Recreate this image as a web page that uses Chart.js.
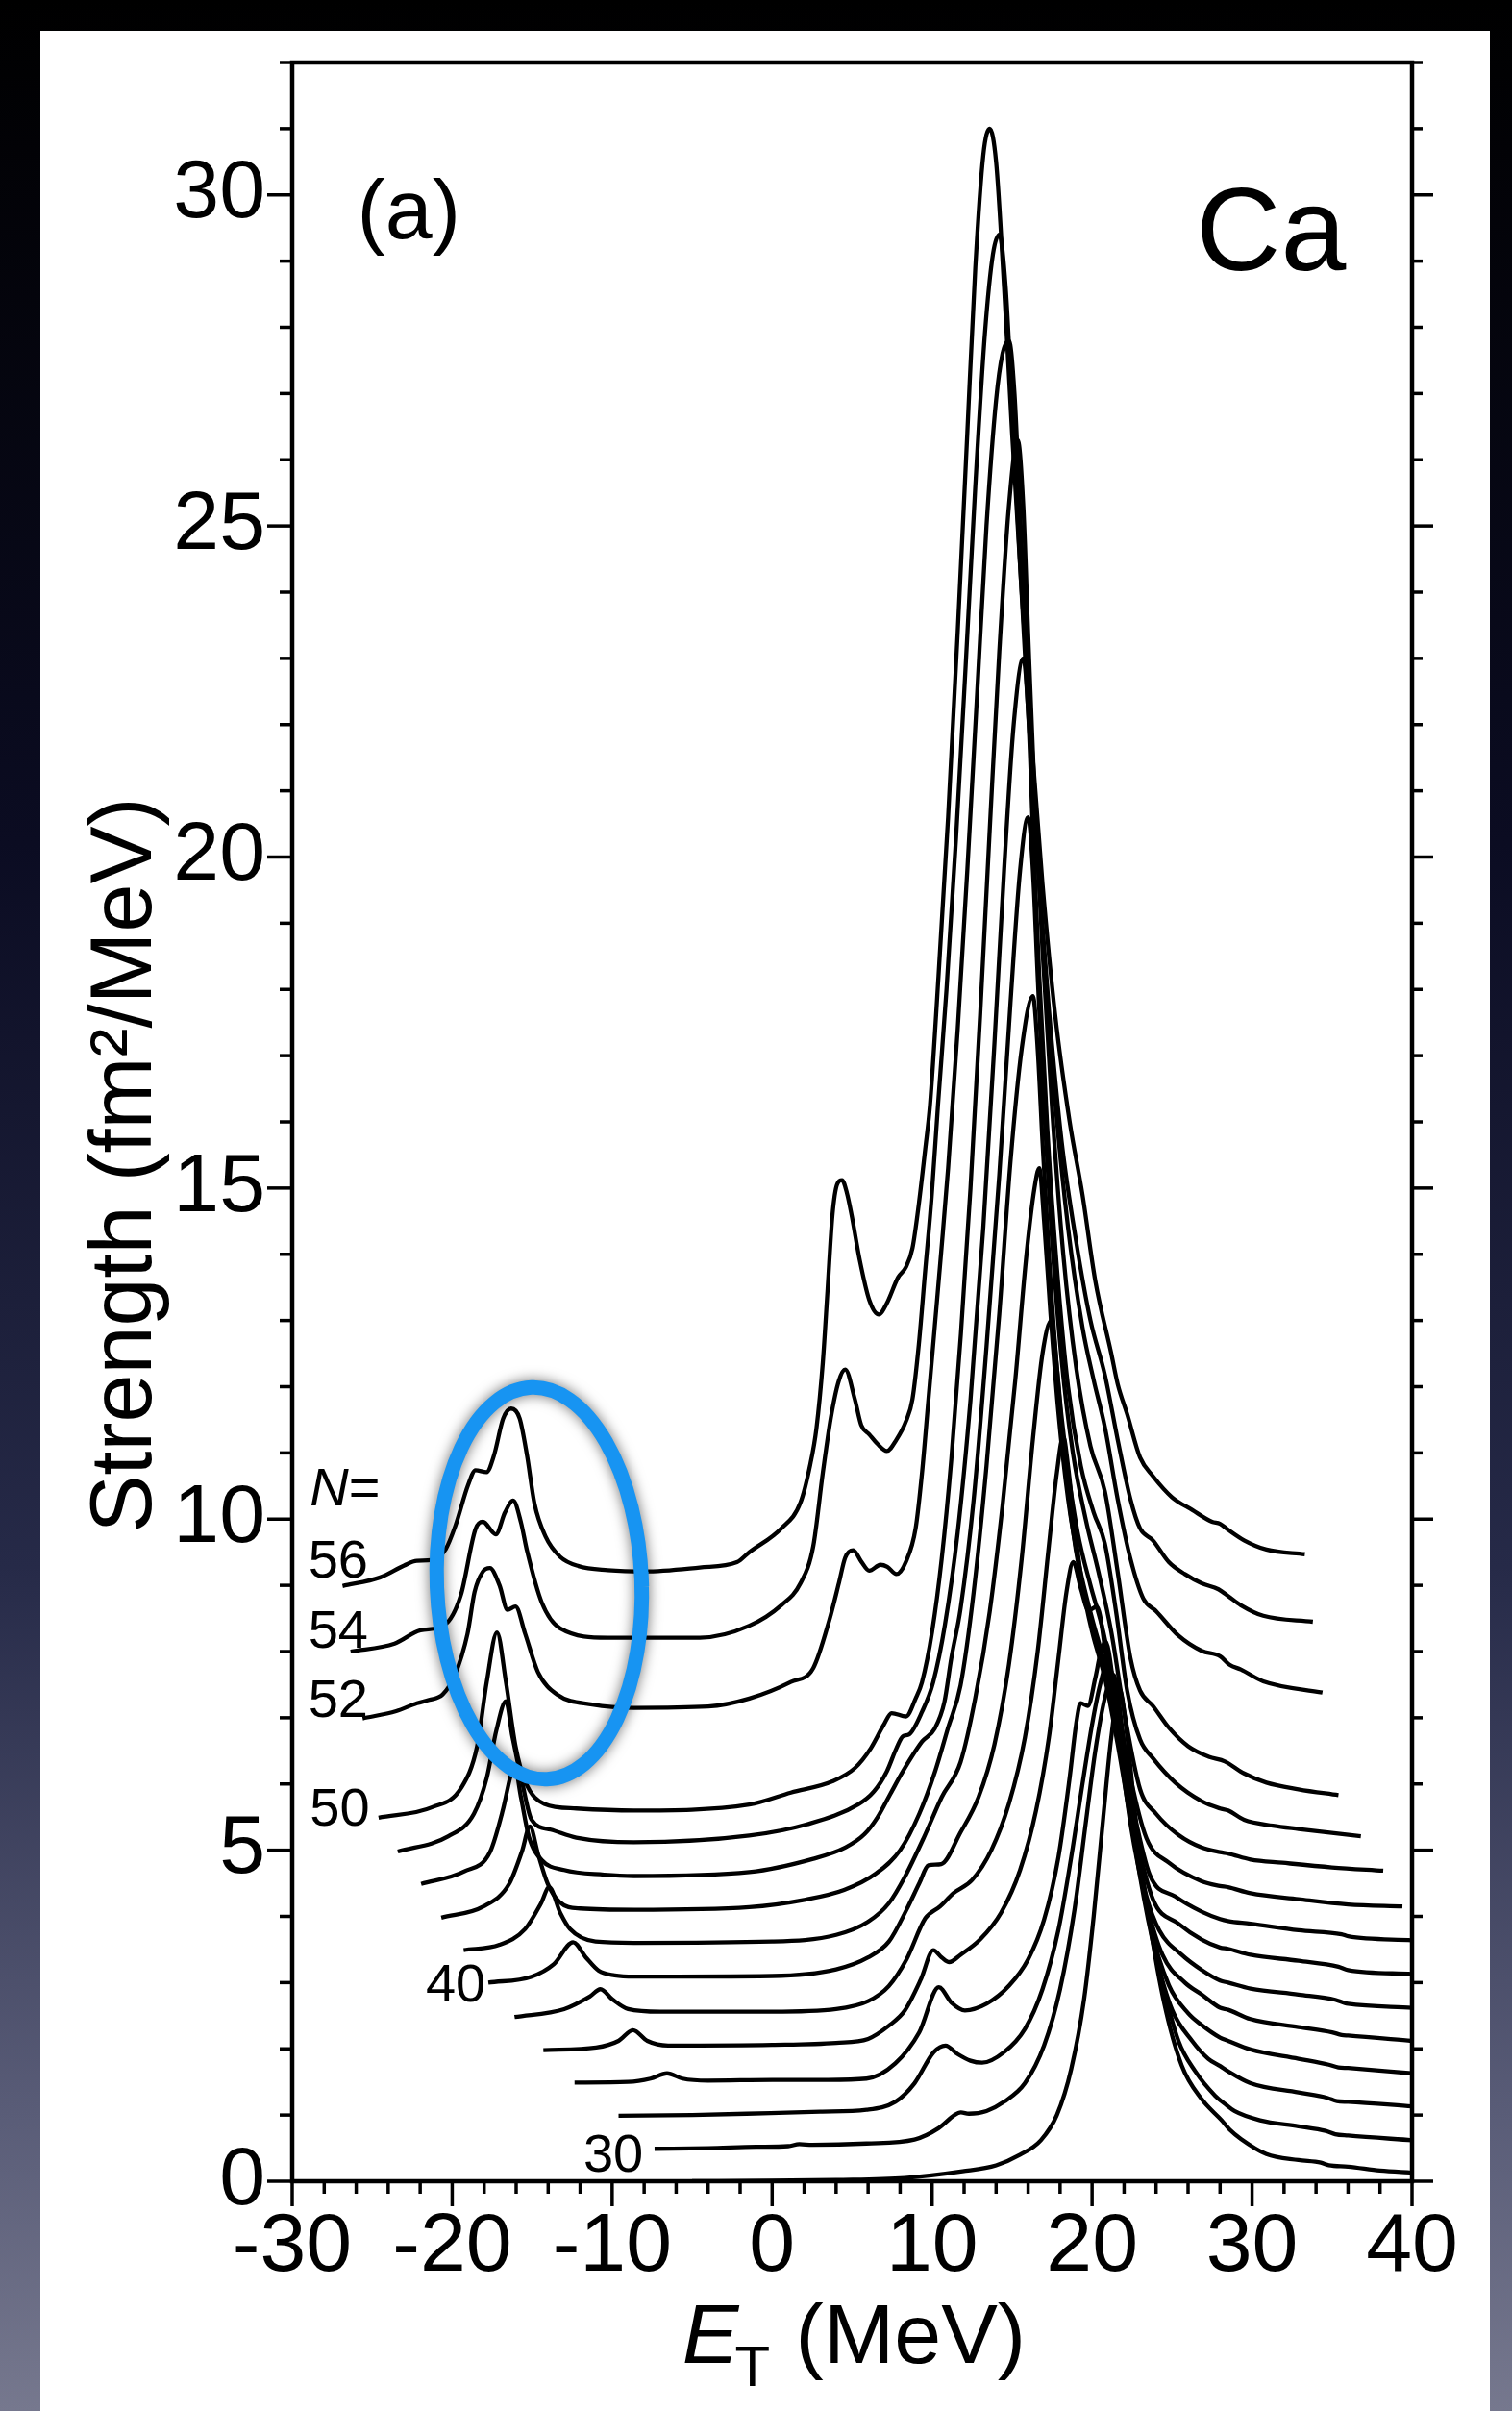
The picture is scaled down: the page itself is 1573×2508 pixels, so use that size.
<!DOCTYPE html>
<html>
<head>
<meta charset="utf-8">
<script src="https://cdn.jsdelivr.net/npm/chart.js@4.4.1/dist/chart.umd.min.js"></script>
<style>
  html, body { margin: 0; padding: 0; }
  body {
    width: 1573px; height: 2508px; overflow: hidden; position: relative;
    background: linear-gradient(180deg, #000000 0%, #0b0c22 35%, #262a48 65%, #5a5d78 88%, #76788e 100%);
  }
  #panel { position: absolute; left: 42px; top: 32px; width: 1508px; height: 2476px; background: #ffffff; }
  #wrap { position: absolute; left: 0; top: 0; width: 1573px; height: 2508px; }
</style>
</head>
<body>
<div id="panel"></div>
<div id="wrap"><canvas id="chart" width="1573" height="2508"></canvas></div>
<script>
// Ca isotopes, N = 28 ... 56, strength vs E_T, each curve shifted up
const isotopeN = [28, 30, 32, 34, 36, 38, 40, 42, 44, 46, 48, 50, 52, 54, 56];

const xMajorTicks = [-30, -20, -10, 0, 10, 20, 30, 40];
const xMinorTicks = [-28, -26, -24, -22, -18, -16, -14, -12, -8, -6, -4, -2, 2, 4, 6, 8, 12, 14, 16, 18, 22, 24, 26, 28, 32, 34, 36, 38];
const yMajorTicks = [0, 5, 10, 15, 20, 25, 30];
const yMinorTicks = [1, 2, 3, 4, 6, 7, 8, 9, 11, 12, 13, 14, 16, 17, 18, 19, 21, 22, 23, 24, 26, 27, 28, 29, 31, 32];

const s28 = [[-5.0,0.0],[0.0,0.01],[4.0,0.02],[8.3,0.05],[11.9,0.15],[14.0,0.24],[15.5,0.4],[16.8,0.62],[17.8,1.0],[18.7,1.7],[19.5,2.75],[20.1,4.0],[20.7,5.5],[21.2,6.7],[21.7,7.45],[22.2,6.7],[22.8,5.3],[23.6,3.9],[24.5,2.7],[25.6,1.75],[26.85,1.24],[28.1,0.92],[28.6,0.78],[29.3,0.64],[30.9,0.41],[32.9,0.32],[34.3,0.28],[34.8,0.24],[36.0,0.22],[38.0,0.16],[40.0,0.13]];
const s30 = [[-7.35,0.49],[-4.0,0.5],[-1.0,0.52],[1.0,0.53],[1.7,0.56],[2.5,0.55],[5.9,0.57],[8.9,0.63],[10.4,0.8],[11.4,1.0],[11.8,1.04],[12.3,1.02],[13.4,1.06],[14.5,1.2],[15.8,1.48],[17.0,2.05],[18.0,2.9],[18.9,4.1],[19.6,5.4],[20.2,6.5],[20.8,7.3],[21.35,7.65],[21.9,6.8],[22.5,5.6],[23.3,4.3],[24.3,3.1],[25.4,2.12],[26.45,1.66],[27.7,1.29],[28.4,1.15],[28.9,1.06],[30.5,0.92],[32.9,0.83],[34.6,0.76],[35.2,0.71],[36.0,0.69],[40.0,0.62]];
const s32 = [[-9.6,0.99],[-5.0,1.0],[-0.1,1.03],[3.0,1.05],[5.9,1.08],[7.7,1.2],[8.9,1.48],[10.1,1.95],[10.84,2.05],[11.6,1.92],[12.4,1.82],[13.13,1.79],[14.5,1.95],[15.8,2.3],[16.9,2.9],[17.9,3.8],[18.7,4.9],[19.4,6.0],[20.0,6.9],[20.5,7.5],[21.0,7.85],[21.6,7.0],[22.2,5.9],[23.0,4.6],[24.0,3.4],[25.0,2.59],[26.25,2.12],[27.26,1.85],[28.0,1.74],[28.5,1.66],[29.9,1.48],[32.9,1.34],[34.7,1.26],[35.3,1.21],[36.0,1.2],[40.0,1.13]];
const s34 = [[-12.35,1.49],[-9.0,1.5],[-7.6,1.55],[-6.57,1.63],[-5.6,1.55],[-4.0,1.52],[0.0,1.53],[3.5,1.53],[5.9,1.55],[7.7,1.78],[9.2,2.25],[10.42,2.93],[11.2,2.7],[12.05,2.58],[13.4,2.68],[14.8,2.95],[16.0,3.35],[17.0,3.95],[17.9,4.9],[18.6,6.1],[19.0,6.9],[19.28,7.22],[19.74,7.18],[20.2,7.6],[20.5,7.95],[20.85,8.15],[21.4,7.4],[22.0,6.4],[22.8,5.0],[23.6,3.9],[24.8,2.96],[26.0,2.54],[26.85,2.36],[28.0,2.17],[28.5,2.12],[29.9,1.99],[32.9,1.85],[34.8,1.76],[35.4,1.72],[36.0,1.71],[40.0,1.63]];
const s36 = [[-14.3,1.98],[-11.0,2.02],[-9.6,2.12],[-8.7,2.28],[-7.8,2.12],[-6.5,2.05],[0.0,2.06],[4.0,2.09],[6.0,2.15],[7.3,2.35],[8.3,2.58],[9.3,3.05],[10.07,3.49],[10.6,3.38],[11.07,3.31],[11.78,3.42],[13.0,3.65],[14.3,4.05],[15.5,4.7],[16.5,5.6],[17.3,6.7],[17.9,7.9],[18.4,8.9],[18.82,9.35],[19.3,8.95],[19.78,8.62],[20.3,8.68],[20.9,7.9],[21.6,6.8],[22.4,5.4],[23.4,4.2],[24.4,3.42],[25.8,3.0],[26.85,2.82],[28.0,2.62],[28.5,2.59],[29.9,2.45],[32.9,2.33],[35.0,2.25],[35.6,2.21],[36.0,2.2],[40.0,2.12]];
const s38 = [[-16.1,2.48],[-13.0,2.6],[-11.4,2.79],[-10.73,2.9],[-10.0,2.75],[-9.0,2.6],[-7.0,2.56],[0.0,2.56],[4.0,2.6],[6.0,2.72],[7.3,2.95],[8.4,3.35],[9.57,3.97],[10.5,4.15],[11.33,4.35],[12.5,4.55],[13.7,5.0],[14.8,5.7],[15.8,6.7],[16.6,8.0],[17.3,9.6],[17.8,10.7],[18.2,11.25],[18.5,10.8],[18.9,9.9],[19.4,9.0],[20.0,8.3],[20.8,7.6],[21.6,6.6],[22.6,5.2],[23.4,4.3],[24.2,3.79],[25.6,3.42],[26.85,3.19],[28.0,3.03],[28.5,3.0],[29.9,2.91],[32.9,2.82],[35.2,2.74],[35.8,2.69],[36.0,2.68],[40.0,2.62]];
const s40 = [[-17.74,3.0],[-15.04,3.09],[-13.64,3.28],[-12.44,3.61],[-11.64,3.38],[-10.84,3.18],[-9.84,3.11],[-8.64,3.09],[0.0,3.1],[4.0,3.2],[6.0,3.38],[7.3,3.62],[8.4,4.1],[9.2,4.5],[9.77,4.77],[10.57,4.79],[11.78,5.27],[12.9,5.8],[13.9,6.6],[14.8,7.8],[15.6,9.4],[16.3,11.2],[16.9,12.5],[17.45,13.0],[17.8,12.3],[18.2,11.1],[18.7,10.0],[19.3,9.1],[20.0,8.4],[20.8,7.7],[21.6,6.8],[22.6,5.4],[23.8,4.26],[25.4,3.89],[26.85,3.65],[28.0,3.53],[28.5,3.51],[29.9,3.42],[32.9,3.33],[35.4,3.24],[36.0,3.19],[40.0,3.13]];
const s42 = [[-19.28,3.49],[-17.04,3.57],[-15.44,3.81],[-14.44,4.2],[-13.94,4.44],[-13.24,4.05],[-12.64,3.81],[-11.04,3.62],[-8.64,3.6],[0.0,3.62],[4.0,3.72],[6.0,3.92],[7.3,4.2],[8.3,4.6],[9.5,5.2],[10.6,5.8],[11.78,6.33],[12.7,7.3],[13.6,8.6],[14.4,10.2],[15.2,12.1],[15.9,14.0],[16.4,15.0],[16.7,15.3],[17.0,14.5],[17.4,13.1],[17.9,11.6],[18.5,10.3],[19.2,9.3],[20.0,8.5],[20.8,7.8],[21.6,6.9],[22.6,5.6],[23.6,4.63],[25.2,4.3],[26.85,4.07],[28.0,3.96],[28.5,3.93],[29.9,3.89],[32.9,3.79],[35.6,3.73],[36.0,3.7],[40.0,3.64]];
const s44 = [[-20.68,3.98],[-18.04,4.15],[-16.44,4.49],[-15.64,4.98],[-15.14,5.36],[-14.64,4.95],[-14.04,4.5],[-13.3,4.22],[-12.0,4.12],[-8.6,4.1],[-1.43,4.14],[2.0,4.25],[4.5,4.4],[6.5,4.65],[8.0,5.0],[9.2,5.55],[10.2,6.2],[11.0,6.85],[11.78,7.49],[12.6,8.9],[13.4,10.8],[14.2,13.1],[14.9,15.4],[15.6,17.1],[16.3,17.9],[16.6,17.1],[16.9,15.7],[17.3,14.0],[17.8,12.3],[18.4,10.9],[19.1,9.8],[19.9,9.0],[20.7,8.3],[21.5,7.3],[22.4,6.1],[23.4,5.18],[24.8,4.81],[26.85,4.53],[28.0,4.46],[28.5,4.44],[29.9,4.35],[32.9,4.26],[36.0,4.18],[39.4,4.15]];
const s46 = [[-21.94,4.49],[-19.24,4.68],[-17.64,4.97],[-16.84,5.6],[-16.34,6.13],[-16.1,6.28],[-15.7,5.8],[-15.2,5.2],[-14.4,4.85],[-13.0,4.7],[-10.5,4.63],[-8.64,4.61],[-1.43,4.67],[2.57,4.87],[4.57,5.04],[5.77,5.24],[6.57,5.49],[7.37,5.84],[8.17,6.19],[9.37,6.64],[10.17,6.84],[10.77,7.24],[11.2,7.9],[11.78,8.65],[12.6,10.3],[13.4,12.6],[14.2,15.2],[14.9,17.8],[15.5,19.8],[16.0,20.6],[16.3,19.8],[16.6,18.2],[17.0,16.2],[17.5,14.2],[18.1,12.4],[18.8,11.0],[19.6,10.0],[20.4,9.2],[21.2,8.3],[22.0,7.1],[23.0,5.92],[24.0,5.55],[25.4,5.23],[26.85,5.04],[28.0,4.97],[28.5,4.95],[29.9,4.86],[31.9,4.81],[35.0,4.74],[38.2,4.69]];
const s48 = [[-23.4,4.98],[-20.24,5.21],[-18.64,5.55],[-17.84,6.09],[-17.24,6.81],[-16.64,7.25],[-16.24,6.72],[-15.64,6.04],[-15.04,5.46],[-13.84,5.31],[-12.24,5.19],[-8.64,5.12],[-1.43,5.22],[2.17,5.39],[5.37,5.69],[6.37,5.89],[7.17,6.19],[7.77,6.54],[8.17,6.72],[8.57,6.75],[9.37,7.09],[10.07,7.54],[10.8,8.4],[11.6,9.8],[12.4,11.8],[13.2,14.4],[13.9,17.2],[14.5,19.8],[15.1,22.0],[15.7,23.0],[16.0,22.2],[16.3,20.4],[16.7,18.2],[17.2,15.9],[17.8,13.8],[18.5,12.0],[19.3,10.8],[20.1,10.1],[20.8,9.63],[21.5,8.6],[22.2,7.4],[23.0,6.67],[23.8,6.39],[25.2,6.02],[26.85,5.74],[28.0,5.63],[28.5,5.6],[29.5,5.46],[31.3,5.37],[32.9,5.32],[36.8,5.21]];
const s50 = [[-24.6,5.49],[-21.24,5.65],[-19.44,5.94],[-18.44,6.57],[-17.84,7.54],[-17.2,8.29],[-16.64,7.54],[-16.04,6.57],[-15.44,6.04],[-14.24,5.7],[-12.24,5.63],[-8.64,5.6],[-1.43,5.69],[1.17,5.87],[3.77,6.04],[5.17,6.24],[6.17,6.54],[6.97,6.89],[7.47,7.07],[8.37,7.02],[8.97,7.29],[9.37,7.54],[10.0,8.3],[10.6,9.4],[11.2,10.9],[11.8,12.8],[12.4,15.0],[13.0,17.6],[13.6,20.4],[14.2,23.1],[14.8,25.3],[15.35,26.3],[15.7,25.3],[16.0,23.4],[16.4,21.0],[16.9,18.6],[17.5,16.2],[18.2,14.0],[19.0,12.3],[19.9,11.1],[20.8,10.42],[21.6,9.2],[22.4,7.9],[23.0,7.41],[23.8,7.18],[24.8,6.85],[26.0,6.57],[27.3,6.41],[28.3,6.34],[29.5,6.16],[30.9,6.02],[32.9,5.92],[35.4,5.83]];
const s52 = [[-25.6,6.99],[-23.5,7.1],[-22.2,7.22],[-21.44,7.27],[-20.6,7.35],[-19.84,7.64],[-19.04,8.27],[-18.6,8.9],[-18.1,9.2],[-17.64,9.26],[-17.04,9.0],[-16.54,8.63],[-16.04,8.68],[-15.44,8.27],[-14.64,7.69],[-13.44,7.35],[-11.24,7.2],[-8.64,7.15],[-4.0,7.17],[-1.43,7.29],[1.17,7.54],[2.57,7.75],[3.57,8.47],[4.17,9.03],[4.57,9.42],[5.07,9.53],[5.57,9.36],[6.07,9.22],[6.77,9.31],[7.2,9.28],[7.77,9.17],[8.37,9.36],[8.97,9.86],[9.37,10.7],[9.77,11.81],[10.17,12.92],[10.57,14.04],[11.0,15.3],[11.6,17.4],[12.2,19.8],[12.8,22.4],[13.4,25.0],[14.0,26.9],[14.4,27.6],[14.8,27.8],[15.15,27.0],[15.5,25.2],[15.9,23.0],[16.4,20.8],[17.0,18.5],[17.7,16.3],[18.5,14.4],[19.4,12.9],[20.1,12.1],[20.8,11.39],[21.6,10.3],[22.4,9.4],[23.2,8.8],[24.0,8.61],[25.4,8.24],[26.85,8.01],[28.0,7.93],[28.6,7.8],[29.3,7.73],[30.7,7.55],[34.4,7.38]];
const s54 = [[-26.35,8.0],[-23.6,8.12],[-21.98,8.32],[-20.49,8.4],[-19.46,8.85],[-18.54,9.85],[-18.08,9.96],[-17.27,9.77],[-16.7,10.1],[-16.19,10.28],[-15.7,9.95],[-15.32,9.52],[-14.4,8.74],[-13.25,8.35],[-10.27,8.21],[-4.52,8.21],[-1.43,8.39],[0.57,8.7],[1.77,9.03],[2.57,9.59],[3.17,10.7],[3.67,11.53],[4.17,12.09],[4.57,12.26],[5.17,11.81],[5.57,11.42],[6.07,11.28],[6.57,11.14],[7.17,11.03],[7.77,11.2],[8.37,11.48],[8.77,11.81],[9.17,12.64],[9.57,13.76],[9.97,14.87],[10.37,16.26],[10.9,18.0],[11.5,20.3],[12.1,22.9],[12.7,25.6],[13.3,27.9],[13.8,29.1],[14.2,29.4],[14.6,28.6],[15.0,26.8],[15.5,24.4],[16.0,22.2],[16.6,19.9],[17.3,17.7],[18.1,15.7],[19.0,14.2],[19.9,13.0],[20.8,12.18],[21.6,11.2],[22.4,10.3],[23.0,9.86],[23.8,9.68],[24.8,9.35],[25.8,9.17],[26.85,9.03],[27.9,8.94],[28.5,8.84],[29.3,8.7],[30.7,8.54],[33.8,8.45]];
const s56 = [[-26.85,8.99],[-24.5,9.12],[-23.0,9.3],[-22.21,9.37],[-21.3,9.38],[-20.4,9.55],[-19.8,9.9],[-19.0,10.52],[-18.54,10.74],[-17.85,10.71],[-17.39,10.96],[-16.81,11.52],[-16.31,11.67],[-15.78,11.52],[-15.32,10.96],[-14.86,10.24],[-14.17,9.74],[-13.25,9.43],[-12.1,9.29],[-10.27,9.23],[-7.97,9.21],[-4.52,9.27],[-2.2,9.35],[-1.43,9.5],[0.57,9.86],[1.77,10.25],[2.37,10.81],[2.77,11.37],[3.17,12.37],[3.47,13.48],[3.77,14.59],[4.07,15.06],[4.37,15.12],[4.67,14.93],[4.97,14.59],[5.47,13.92],[6.07,13.31],[6.67,13.09],[7.17,13.26],[7.87,13.65],[8.37,13.81],[8.77,14.09],[9.17,14.76],[9.57,15.59],[9.87,16.26],[10.4,18.2],[11.0,20.6],[11.6,23.4],[12.2,26.4],[12.7,28.9],[13.2,30.6],[13.6,31.0],[14.0,30.5],[14.5,28.6],[15.0,26.4],[15.6,24.0],[16.2,21.8],[16.9,19.6],[17.7,17.6],[18.6,16.0],[19.4,14.9],[20.2,13.6],[21.2,12.5],[21.6,12.04],[22.2,11.58],[23.0,10.93],[23.8,10.65],[25.0,10.33],[26.25,10.14],[27.5,9.96],[28.0,9.93],[28.5,9.84],[29.5,9.68],[30.9,9.54],[33.3,9.47]];

const curves = [s28, s30, s32, s34, s36, s38, s40, s42, s44, s46, s48, s50, s52, s54, s56];
const curveLabels = ['N=', '56', '54', '52', '50', '40', '30'];

const FONT = '"Liberation Sans", Arial, Helvetica, sans-serif';

// frame, tick marks, labels and the blue highlight ring
const decorations = {
  id: 'decorations',
  afterDatasetsDraw(chart) {
    const ctx = chart.ctx;
    const { left, right, top, bottom } = chart.chartArea;
    const xs = chart.scales.x, ys = chart.scales.y;
    const px = v => xs.getPixelForValue(v);
    const py = v => ys.getPixelForValue(v);

    ctx.save();
    ctx.strokeStyle = '#000';

    // tick marks, outside of the box
    ctx.lineWidth = 3.5;
    ctx.lineCap = 'butt';
    const tick = (x1, y1, x2, y2) => { ctx.beginPath(); ctx.moveTo(x1, y1); ctx.lineTo(x2, y2); ctx.stroke(); };
    yMajorTicks.forEach(v => {
      tick(left - 26, py(v), left, py(v));
      tick(right, py(v), right + 22, py(v));
    });
    yMinorTicks.forEach(v => {
      tick(left - 13, py(v), left, py(v));
      tick(right, py(v), right + 11, py(v));
    });
    xMajorTicks.forEach(v => tick(px(v), bottom, px(v), bottom + 26));
    xMinorTicks.forEach(v => tick(px(v), bottom, px(v), bottom + 13));

    // plot box
    ctx.lineWidth = 4.5;
    ctx.lineCap = 'square';
    ctx.strokeRect(left, top, right - left, bottom - top);

    // text inside the plot
    ctx.fillStyle = '#000';
    ctx.textBaseline = 'alphabetic';
    ctx.textAlign = 'left';
    ctx.font = '88px ' + FONT;
    ctx.fillText('(a)', px(-25.95), py(29.35));
    ctx.font = '122px ' + FONT;
    ctx.fillText('Ca', px(26.5), py(28.86));

    ctx.font = 'italic 56px ' + FONT;
    ctx.fillText('N', px(-28.9), py(10.21));
    const wN = ctx.measureText('N').width;
    ctx.font = '56px ' + FONT;
    ctx.fillText('=', px(-28.9) + wN, py(10.21));
    ctx.fillText(curveLabels[1], px(-29.0), py(9.12));
    ctx.fillText(curveLabels[2], px(-29.0), py(8.06));
    ctx.fillText(curveLabels[3], px(-29.0), py(7.01));
    ctx.fillText(curveLabels[4], px(-28.9), py(5.37));
    ctx.fillText(curveLabels[5], px(-21.65), py(2.72));
    ctx.fillText(curveLabels[6], px(-11.8), py(0.15));

    // blue ring around the low-energy peaks
    const cx = px(-14.56), cy = py(9.03);
    const rx = px(-14.56 + 6.4) - cx, ry = cy - py(9.03 + 2.96);
    ctx.shadowColor = 'rgba(0,0,0,0.55)';
    ctx.shadowBlur = 14;
    ctx.strokeStyle = '#1794f2';
    ctx.lineWidth = 15;
    ctx.beginPath();
    ctx.ellipse(cx, cy, rx, ry, -0.04, 0, Math.PI * 2);
    ctx.stroke();
    ctx.shadowBlur = 0;
    ctx.shadowColor = 'transparent';

    // axis titles
    ctx.fillStyle = '#000';
    const midX = (left + right) / 2 + 3;
    const base = 2458;
    ctx.font = 'italic 88px ' + FONT;
    const wE = ctx.measureText('E').width;
    ctx.font = '60px ' + FONT;
    const wT = ctx.measureText('T').width;
    ctx.font = '88px ' + FONT;
    const wRest = ctx.measureText(' (MeV)').width;
    let x0 = midX - (wE + wT + wRest) / 2;
    ctx.font = 'italic 88px ' + FONT;
    ctx.fillText('E', x0, base);
    ctx.font = '60px ' + FONT;
    ctx.fillText('T', x0 + wE - 4, base + 24);
    ctx.font = '88px ' + FONT;
    ctx.fillText(' (MeV)', x0 + wE + wT - 2, base);

    ctx.translate(157, 1212);
    ctx.rotate(-Math.PI / 2);
    ctx.textAlign = 'center';
    ctx.font = '90px ' + FONT;
    ctx.fillText('Strength (fm\u00B2/MeV)', 0, 0);
    ctx.restore();
  }
};

const datasets = curves.map((pts, i) => ({
  label: 'N=' + isotopeN[i],
  data: pts,
  showLine: true,
  fill: false,
  borderColor: '#000000',
  borderWidth: 4.3,
  pointRadius: 0,
  pointHoverRadius: 0,
  cubicInterpolationMode: 'monotone'
}));

new Chart(document.getElementById('chart'), {
  type: 'scatter',
  data: { datasets },
  options: {
    responsive: false,
    animation: false,
    devicePixelRatio: 1,
    events: [],
    layout: { padding: { top: 65, right: 104, left: 0, bottom: 0 } },
    plugins: { legend: { display: false }, tooltip: { enabled: false } },
    scales: {
      x: {
        type: 'linear', min: -30, max: 40,
        afterBuildTicks: s => { s.ticks = xMajorTicks.map(v => ({ value: v })); },
        afterFit: s => { s.height = 239; },
        grid: { display: false, drawTicks: true, tickLength: 26 },
        border: { display: false },
        ticks: {
          autoSkip: false, maxRotation: 0, padding: 0, color: '#000',
          font: { family: FONT, size: 86, lineHeight: 1 },
          callback: v => String(v)
        }
      },
      y: {
        type: 'linear', min: 0, max: 32,
        afterBuildTicks: s => { s.ticks = yMajorTicks.map(v => ({ value: v })); },
        afterFit: s => { s.width = 304; },
        grid: { display: false, drawTicks: true, tickLength: 26 },
        border: { display: false },
        ticks: {
          padding: 2, color: '#000',
          font: { family: FONT, size: 86, lineHeight: 1 },
          callback: v => String(v)
        }
      }
    }
  },
  plugins: [decorations]
});
</script>
</body>
</html>
